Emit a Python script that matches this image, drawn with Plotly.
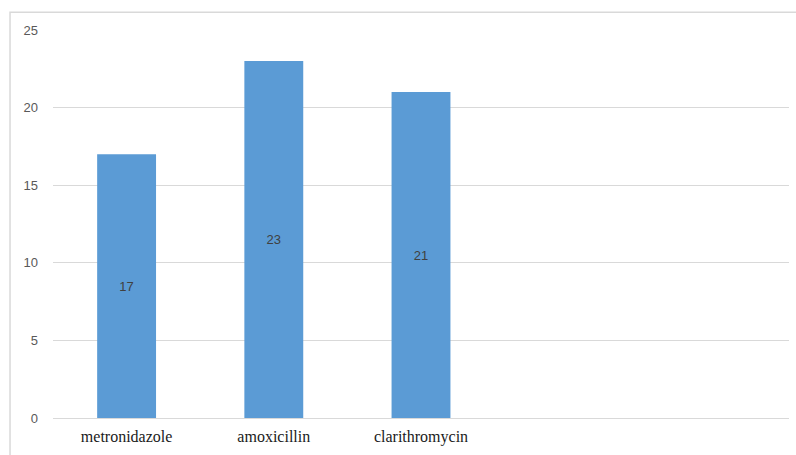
import plotly.graph_objects as go

categories = ["metronidazole", "amoxicillin", "clarithromycin", " ", "  "]
values = [17, 23, 21, None, None]
bar_labels = ["17", "23", "21", "", ""]
y_ticks = [0, 5, 10, 15, 20, 25]

fig = go.Figure()
fig.add_trace(go.Bar(
    x=categories, y=values, text=bar_labels,
    textposition="inside", insidetextanchor="middle",
    textfont=dict(family="Liberation Sans", size=13, color="#404040"),
    marker=dict(color="#5b9bd5", line=dict(width=0)),
    hoverinfo="skip",
))

fig.update_layout(
    width=796, height=455,
    margin=dict(l=53, r=7, t=30, b=37),
    paper_bgcolor="white", plot_bgcolor="white",
    bargap=0.6, showlegend=False,
    xaxis=dict(
        type="category", showgrid=False, zeroline=False,
        showline=False, ticks="",
        tickfont=dict(family="Liberation Serif", size=16, color="#1a1a1a"),
        ticklabelstandoff=7,
    ),
    yaxis=dict(
        range=[0, 25], tickvals=y_ticks, showgrid=True,
        gridcolor="#d9d9d9", gridwidth=1, zeroline=True,
        zerolinecolor="#d9d9d9", zerolinewidth=1,
        showline=False, ticks="",
        tickfont=dict(family="Liberation Sans", size=13, color="#595959"),
        ticklabelstandoff=14,
    ),
    shapes=[dict(
        type="rect", xref="paper", yref="paper",
        x0=-0.0584, x1=1.05, y0=-0.3, y1=1.046,
        line=dict(color="#d9d9d9", width=1.5), fillcolor="rgba(0,0,0,0)",
        layer="below",
    )],
)

fig.write_html("out.html")
